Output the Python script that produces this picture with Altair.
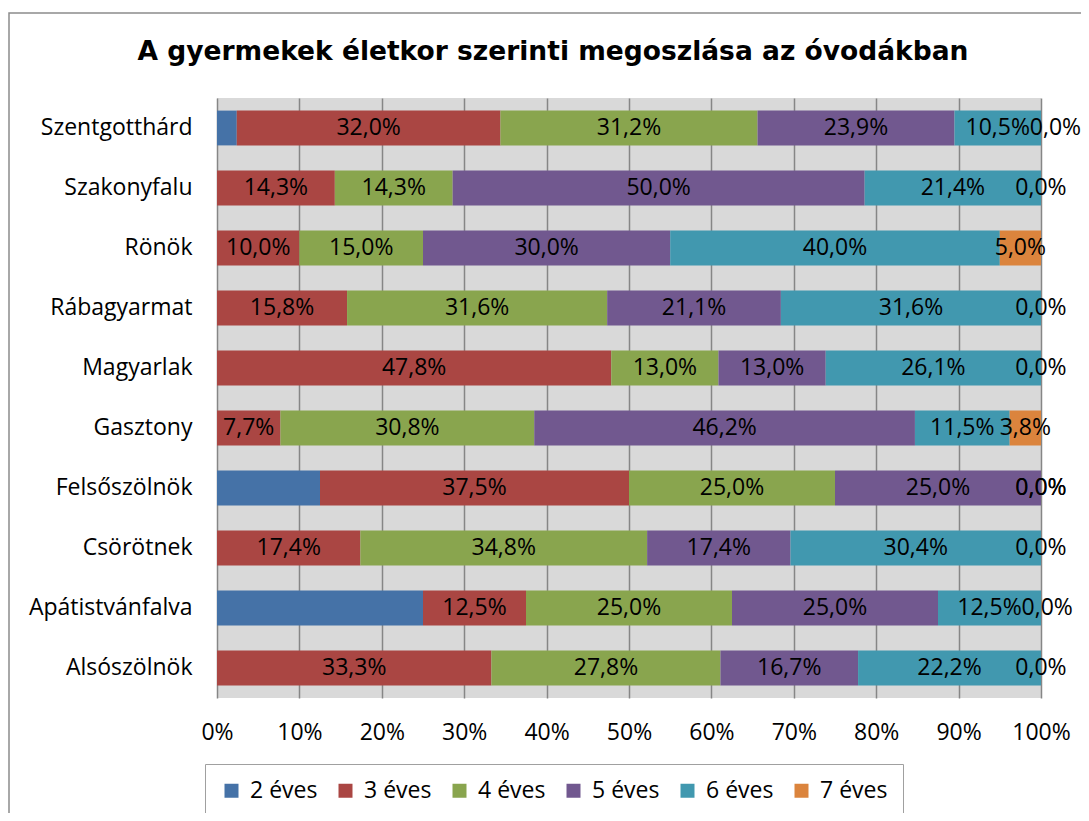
import altair as alt
import pandas as pd

title_text = "A gyermekek életkor szerinti megoszlása az óvodákban"
towns = ["Szentgotthárd", "Szakonyfalu", "Rönök", "Rábagyarmat", "Magyarlak",
         "Gasztony", "Felsőszölnök", "Csörötnek", "Apátistvánfalva", "Alsószölnök"]
series = ["2 éves", "3 éves", "4 éves", "5 éves", "6 éves", "7 éves"]
colors = ["#4572A7", "#AA4643", "#89A54E", "#71588F", "#4198AF", "#DB843D"]

v2 = [2.4, 0.0, 0.0, 0.0, 0.0, 0.0, 12.5, 0.0, 25.0, 0.0]
v3 = [32.0, 14.3, 10.0, 15.8, 47.8, 7.7, 37.5, 17.4, 12.5, 33.3]
v4 = [31.2, 14.3, 15.0, 31.6, 13.0, 30.8, 25.0, 34.8, 25.0, 27.8]
v5 = [23.9, 50.0, 30.0, 21.1, 13.0, 46.2, 25.0, 17.4, 25.0, 16.7]
v6 = [10.5, 21.4, 40.0, 31.6, 26.1, 11.5, 0.0, 30.4, 12.5, 22.2]
v7 = [0.0, 0.0, 5.0, 0.0, 0.0, 3.8, 0.0, 0.0, 0.0, 0.0]

x_ticks = [0, 0.1, 0.2, 0.3, 0.4, 0.5, 0.6, 0.7, 0.8, 0.9, 1.0]

rows = []
for si, (s, vals) in enumerate(zip(series, [v2, v3, v4, v5, v6, v7])):
    for t, v in zip(towns, vals):
        rows.append({"town": t, "series": s, "order": si, "value": v})
df = pd.DataFrame(rows)

FONT = "Open Sans"
FS = 23

base = alt.Chart(df).transform_stack(
    stack="value", groupby=["town"], as_=["x0", "x1"],
    offset="normalize", sort=[alt.SortField("order", order="ascending")]
).transform_calculate(
    mid="(datum.x0 + datum.x1) / 2"
)

yenc = alt.Y("town:N", sort=towns, title=None,
             scale=alt.Scale(paddingInner=0.42, paddingOuter=0.21),
             axis=alt.Axis(labelFont=FONT, labelFontSize=FS, labelColor="#000000",
                           labelPadding=25, ticks=False, domain=False, grid=False))

bars = base.mark_bar(strokeWidth=0).encode(
    x=alt.X("x0:Q", title=None,
            scale=alt.Scale(domain=[0, 1], nice=False),
            axis=alt.Axis(values=x_ticks, format=".0%", labelFont=FONT,
                          labelFontSize=FS, labelColor="#000000", labelPadding=23,
                          ticks=False, domain=False, grid=True,
                          gridColor="#868686", gridWidth=1.5, gridOpacity=1,
                          labelFlush=False)),
    x2="x1:Q",
    y=yenc,
    color=alt.Color("series:N", sort=series,
                    scale=alt.Scale(domain=series, range=colors),
                    legend=alt.Legend(title=None, orient="none", legendX=-12, legendY=666,
                                      direction="horizontal", columns=6,
                                      columnPadding=16, symbolType="square",
                                      symbolSize=196, symbolStrokeWidth=0,
                                      labelFont=FONT, labelFontSize=FS,
                                      labelColor="#000000", labelOffset=7,
                                      padding=15, strokeColor="#A0A0A0",
                                      fillColor="#FFFFFF")),
)

labels = base.transform_calculate(
    m6="datum.series == '6 éves' ? datum.mid : 0",
    v6="datum.series == '6 éves' ? datum.value : 0",
).transform_joinaggregate(
    m6max="max(m6)", v6max="max(v6)", groupby=["town"]
).transform_filter(
    "datum.series != '2 éves'"
).transform_calculate(
    lx="(datum.series == '7 éves' && datum.v6max > 0) ? max(datum.mid, datum.m6max + 0.07) : datum.mid",
    label="replace(format(datum.value, '.1f'), '.', ',') + '%'"
).mark_text(font=FONT, fontSize=FS, color="#000000", align="center", baseline="middle").encode(
    x="lx:Q",
    y=alt.Y("town:N", sort=towns),
    text="label:N",
)

border = alt.Chart(alt.Data(values=[{}])).mark_rect(
    fill=None, stroke="#8C8C8C", strokeWidth=1.5
).encode(
    x=alt.value(-208), x2=alt.value(900), y=alt.value(-85), y2=alt.value(800)
)

title = alt.Chart(alt.Data(values=[{"t": title_text}])).mark_text(
    font="DejaVu Sans", fontSize=26.5, fontWeight="bold", color="#000000",
    align="center", baseline="alphabetic"
).encode(
    x=alt.value(336), y=alt.value(-38), text="t:N"
)

chart = alt.layer(bars, labels, border, title).properties(
    width=824, height=600,
    autosize=alt.AutoSizeParams(type="none"),
    padding={"left": 209, "top": 90, "right": 40, "bottom": 115},
).configure_view(stroke=None, fill="#D9D9D9")

chart.save("out.html", embed_options={"renderer": "svg", "actions": False})
